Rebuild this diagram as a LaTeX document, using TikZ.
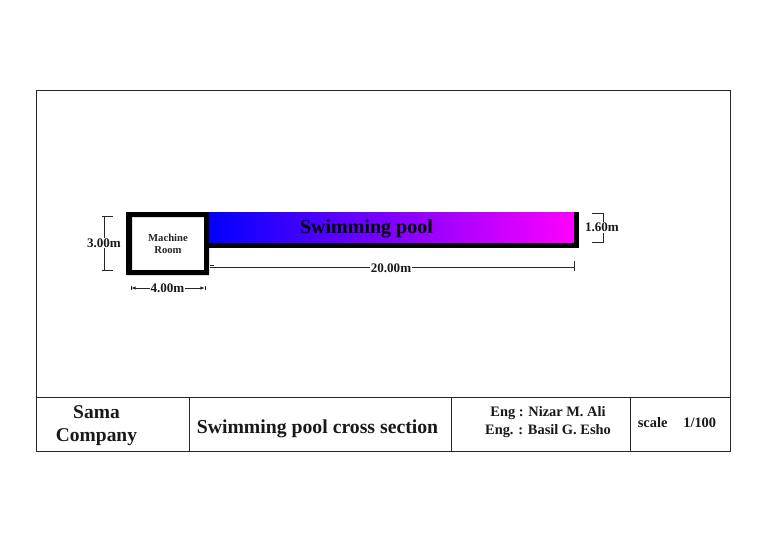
\documentclass[tikz,border=0pt]{standalone}
\usepackage{fontspec}
\setmainfont{Liberation Serif}
\usetikzlibrary{arrows.meta}
\tikzset{
  px/.style={x=0.75pt,y=-0.75pt},
  frameline/.style={draw=black!85,line width=0.7pt},
  wall/.style={fill=black,draw=none},
  dimline/.style={draw=black!85,line width=0.65pt},
  dimtip/.style={dimline,{Latex[length=3.5pt,width=2.5pt]}-{Latex[length=3.5pt,width=2.5pt]}},
  lab/.style={font=\bfseries\fontsize{9.8pt}{10pt}\selectfont,inner sep=0.5pt,fill=white,text=black!90},
  titletxt/.style 2 args={font=\bfseries\fontsize{#1}{#2}\selectfont,align=center,inner sep=0pt,text=black!90}
}
\begin{document}
\begin{tikzpicture}[px]
\useasboundingbox (0,0) rectangle (768,543);
\fill[white] (0,0) rectangle (768,543);
% frame
\draw[frameline] (36.6,90.6) rectangle (730.6,451.3);
\draw[frameline] (36.6,397.3) -- (730.6,397.3);
\draw[frameline] (189,397.3) -- (189,451.3);
\draw[frameline] (451,397.3) -- (451,451.3);
\draw[frameline] (630,397.3) -- (630,451.3);
% pool
\shade[left color=blue,right color=magenta] (207,212.5) rectangle (575,243);
\fill[wall] (204,243) rectangle (579,248);
\fill[wall] (574,212) rectangle (579,248);
% machine room
\fill[wall,even odd rule] (126,212) rectangle (209,275) (132,217) rectangle (204,270);
\node[font=\bfseries\fontsize{8pt}{9.2pt}\selectfont,align=center,inner sep=0pt,text=black!85] (room) at (168,243.5) {Machine\\Room};
\node[font=\bfseries\fontsize{15pt}{16pt}\selectfont,inner sep=0pt,text=black] (pool) at (366.5,229) {Swimming pool};
% 3.00m
\coordinate (a1) at (104,216.5); \coordinate (a2) at (104,270.5);
\draw[dimline] (a1) -- (a2);
\draw[dimline] (102,216.5) -- (113,216.5);
\draw[dimline] (102,270.5) -- (113,270.5);
\node[lab] (h) at (104,243) {3.00m};
% 4.00m
\coordinate (b1) at (131,288); \coordinate (b2) at (205,288);
\draw[dimtip] (b1) -- (b2);
\draw[dimline] (131,286) -- (131,290);
\draw[dimline] (205,286) -- (205,290);
\node[lab] (w) at (167.5,288) {4.00m};
% 20.00m
\coordinate (c1) at (210,267.5); \coordinate (c2) at (574,267.5);
\draw[dimline] (c1) -- (c2);
\draw[dimline] (574,260.5) -- (574,270.5);
\draw[dimline] (210,265.5) -- (214,265.5);
\node[lab] (l) at (391,268) {20.00m};
% 1.60m
\coordinate (d1) at (603,213); \coordinate (d2) at (603,243);
\draw[dimline] (d1) -- (d2);
\draw[dimline] (592,213.5) -- (604,213.5);
\draw[dimline] (592,242.5) -- (604,242.5);
\node[lab] (d) at (602,227.5) {1.60m};
% title block
\node[titletxt={14.6pt}{17.2pt}] (co) at (96.5,426) {Sama\\Company};
\node[titletxt={14.8pt}{17pt}] (ti) at (317.5,429) {Swimming pool cross section};
\node[titletxt={10.8pt}{13.5pt}] (en) at (548,422.5) {Eng : Nizar M. Ali\\Eng. : Basil G. Esho};
\node[titletxt={10.8pt}{13pt}] (sc) at (677,423) {scale\hspace{1.1em}1/100};
\end{tikzpicture}
\end{document}
